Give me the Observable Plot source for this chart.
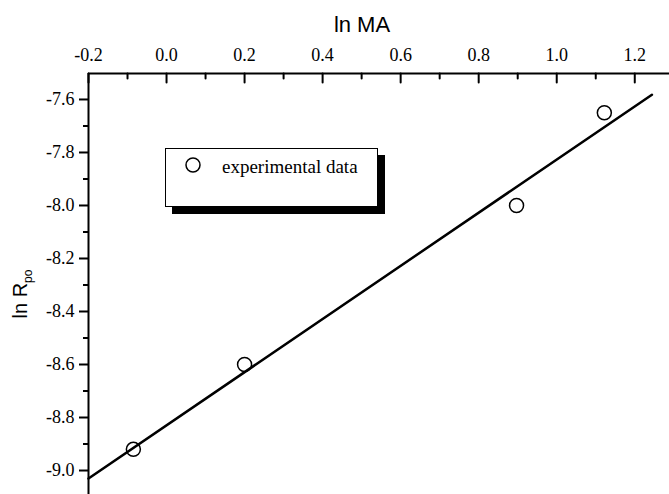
<!DOCTYPE html>
<html><head><meta charset="utf-8">
<script src="https://cdn.jsdelivr.net/npm/d3@7"></script>
<script src="https://cdn.jsdelivr.net/npm/@observablehq/plot@0.6"></script>
<style>
body{margin:0;background:#fff;}
#wrap{position:relative;width:669px;height:494px;}
#legend{position:absolute;left:165px;top:148px;width:211px;height:57px;border:1px solid #000;background:#fff;box-shadow:7px 7px 0 #000;font-family:"Liberation Serif",serif;font-size:19px;color:#000;}
#legend svg{position:absolute;left:17px;top:6px;}
#legend span{position:absolute;left:56px;top:8px;line-height:19px;white-space:nowrap;}
</style></head><body><div id="wrap"></div>
<script>
// data
const lnMA = [-0.085, 0.2, 0.897, 1.122];
const lnRpo = [-8.92, -8.6, -8.0, -7.65];
const fitLnMA = [-0.2, 1.244];
const fitLnRpo = [-9.03, -7.582];
const xTickValues = [-0.2, 0.0, 0.2, 0.4, 0.6, 0.8, 1.0, 1.2];
const xMinorTicks = [-0.1, 0.1, 0.3, 0.5, 0.7, 0.9, 1.1];
const yTickValues = [-7.6, -7.8, -8.0, -8.2, -8.4, -8.6, -8.8, -9.0];
const yMinorTicks = [-7.7, -7.9, -8.1, -8.3, -8.5, -8.7, -8.9];
const xDomain = [-0.2, 1.289];
const yDomain = [-9.0905, -7.502];
const xTitle = "ln MA";
const yTitleMain = "ln R";
const yTitleSub = "po";
const legendLabel = "experimental data";

const points = lnMA.map((x, i) => ({x, y: lnRpo[i]}));
const fit = fitLnMA.map((x, i) => ({x, y: fitLnRpo[i]}));

const tickShape = {draw(ctx, l) { ctx.moveTo(0, 0); ctx.lineTo(0, -l); }};
const sans = "Liberation Sans, Arial, sans-serif";
const serif = "Liberation Serif, Times New Roman, serif";

const chart = Plot.plot({
  width: 669,
  height: 494,
  marginLeft: 88,
  marginRight: 0,
  marginTop: 73,
  marginBottom: 0,
  style: "background:#fff;color:#000;overflow:visible;",
  x: {domain: xDomain, axis: null},
  y: {domain: yDomain, axis: null},
  marks: [
    Plot.ruleX([xDomain[0]], {stroke: "#000", strokeWidth: 2}),
    Plot.ruleY([yDomain[1]], {stroke: "#000", strokeWidth: 2}),
    // top axis: labels + inward ticks
    Plot.text(xTickValues, {x: d => d, frameAnchor: "top", dy: -13, lineAnchor: "bottom",
      text: d => d.toFixed(1), fontSize: 18, fontFamily: serif, fill: "#000"}),
    Plot.vector(xTickValues, {x: d => d, frameAnchor: "top", length: 9, rotate: 180, anchor: "start",
      shape: tickShape, stroke: "#000", strokeWidth: 2}),
    Plot.vector(xMinorTicks, {x: d => d, frameAnchor: "top", length: 5, rotate: 180, anchor: "start",
      shape: tickShape, stroke: "#000", strokeWidth: 2}),
    // left axis: outward ticks + labels
    Plot.axisY({anchor: "left", ticks: yTickValues, tickSize: 9, strokeWidth: 2, text: null, label: null, stroke: "#000"}),
    Plot.axisY({anchor: "left", ticks: yMinorTicks, tickSize: 5, strokeWidth: 2, text: null, label: null, stroke: "#000"}),
    Plot.text(yTickValues, {y: d => d, frameAnchor: "left", dx: -14, textAnchor: "end",
      text: d => d.toFixed(1), fontSize: 18, fontFamily: serif, fill: "#000"}),
    Plot.line(fit, {x: "x", y: "y", stroke: "#000", strokeWidth: 2.5}),
    Plot.dot(points, {x: "x", y: "y", r: 7, stroke: "#000", strokeWidth: 1.5, fill: "none"}),
    Plot.text([xTitle], {frameAnchor: "top", dx: -17, dy: -42, lineAnchor: "bottom",
      fontSize: 22, fontFamily: sans, fill: "#000"})
  ]
});

const wrap = document.getElementById("wrap");
wrap.appendChild(chart);

// y-axis title with subscript
const t = d3.select(chart).append("text")
  .attr("transform", "translate(27,294) rotate(-90)")
  .attr("text-anchor", "middle")
  .attr("font-family", sans)
  .attr("font-size", 20)
  .attr("fill", "#000");
t.append("tspan").text(yTitleMain);
t.append("tspan").attr("font-size", 12).attr("dy", 5).text(yTitleSub);

// legend box with drop shadow
const legend = document.createElement("div");
legend.id = "legend";
legend.innerHTML = `<svg width="20" height="20"><circle cx="10" cy="10" r="7" fill="none" stroke="#000" stroke-width="1.5"/></svg><span></span>`;
legend.querySelector("span").textContent = legendLabel;
wrap.appendChild(legend);
</script>
</body></html>
